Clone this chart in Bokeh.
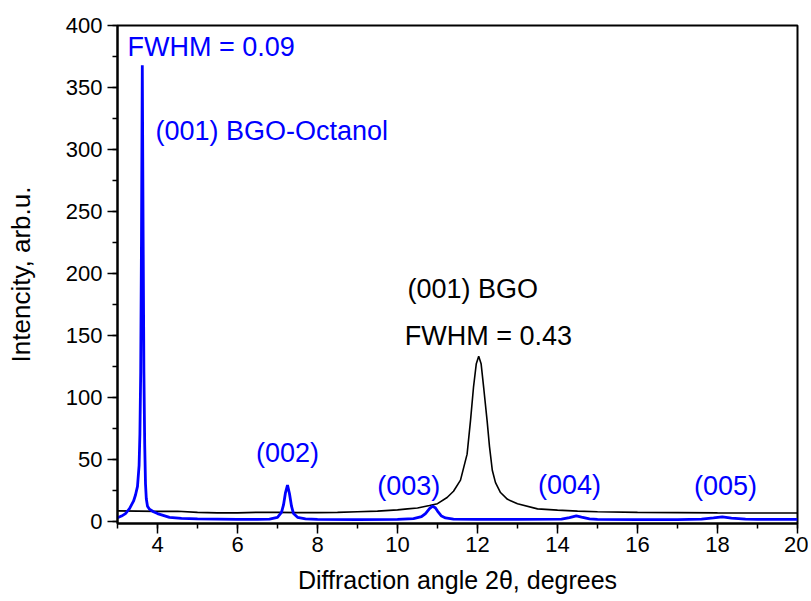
from bokeh.plotting import figure
from bokeh.models import Range1d, SingleIntervalTicker
from bokeh.core.properties import value
from bokeh.embed import file_html
from bokeh.resources import INLINE

# Black curve: (001) BGO
bgo_x = [3.0, 3.5, 4.0, 4.5, 5.0, 5.5, 6.0, 6.6, 7.0, 7.5, 8.0, 8.5, 9.0, 9.5, 10.0, 10.25,
         10.5, 10.8, 11.0, 11.24, 11.4, 11.575, 11.74, 11.825, 11.9, 11.97, 12.03, 12.09,
         12.16, 12.24, 12.3, 12.37, 12.45, 12.575, 12.75, 13.0, 13.5, 14.0, 14.5, 15.0,
         16.0, 17.0, 18.0, 19.0, 20.0]
bgo_y = [8.2, 8.0, 7.8, 7.9, 7.0, 6.6, 6.6, 7.1, 7.0, 6.8, 6.8, 7.0, 7.5, 8.0, 9.0, 9.8,
         10.5, 12.5, 14.0, 19.0, 24.0, 33.0, 54.0, 81.0, 108.0, 127.0, 133.0, 127.0,
         106.0, 81.0, 60.0, 41.0, 31.0, 23.0, 17.5, 14.0, 9.8, 8.8, 8.0, 7.5,
         7.0, 6.8, 6.6, 6.5, 6.5]

# Blue curve: BGO-Octanol
oct_x = [3.0, 3.1, 3.2, 3.3, 3.4, 3.45, 3.5, 3.54, 3.56, 3.58, 3.6, 3.62, 3.64, 3.66, 3.68,
         3.7, 3.72, 3.75, 3.8, 3.9, 4.0, 4.1, 4.3, 4.6, 5.0, 6.0, 6.5, 6.8, 7.0, 7.1, 7.15,
         7.2, 7.25, 7.3, 7.35, 7.4, 7.5, 7.7, 8.0, 9.0, 10.0, 10.4, 10.6, 10.7, 10.8, 10.88,
         10.95, 11.0, 11.1, 11.2, 11.4, 12.0, 13.0, 14.1, 14.3, 14.47, 14.6, 14.8, 15.0,
         16.0, 17.0, 17.6, 17.9, 18.12, 18.35, 18.7, 19.0, 20.0]
oct_y = [2.6, 4.0, 6.0, 10.0, 16.0, 21.0, 28.0, 45.0, 70.0, 120.0, 230.0, 368.0, 235.0,
         120.0, 62.0, 30.0, 18.0, 12.0, 9.5, 7.5, 6.0, 5.0, 3.0, 2.2, 1.8, 1.3, 1.3, 1.6,
         3.0, 7.0, 13.0, 23.0, 29.0, 22.0, 12.0, 6.0, 3.0, 1.8, 1.4, 1.2, 1.3, 2.0, 3.5, 6.0,
         10.0, 12.0, 10.5, 8.0, 4.0, 2.5, 1.6, 1.3, 1.3, 1.5, 2.8, 4.2, 3.2, 1.8, 1.3,
         1.2, 1.2, 1.5, 2.5, 3.3, 2.4, 1.5, 1.3, 1.3]

# Annotations
blue_labels = ["FWHM = 0.09", "(001) BGO-Octanol"]
blue_lx = [3.25, 3.95]
blue_ly = [383.0, 314.5]
peak_labels = ["(002)", "(003)", "(004)", "(005)"]
peak_lx = [7.25, 10.28, 14.3, 18.2]
peak_ly = [55.0, 28.0, 29.0, 28.0]
black_labels = ["(001) BGO", "FWHM = 0.43"]
black_lx = [10.25, 10.18]
black_ly = [187.0, 149.0]

FONT = "Liberation Sans"

p = figure(width=808, height=600, output_backend="svg", toolbar_location=None,
           x_range=Range1d(3, 20), y_range=Range1d(-2, 400),
           min_border_left=117, min_border_right=11, min_border_top=25, min_border_bottom=77)
p.grid.visible = False
p.outline_line_color = "black"
p.outline_line_width = 2
p.background_fill_color = "white"
p.border_fill_color = "white"

p.xaxis.ticker = SingleIntervalTicker(interval=2, num_minor_ticks=2)
p.yaxis.ticker = SingleIntervalTicker(interval=50, num_minor_ticks=2)
for ax in (p.xaxis[0], p.yaxis[0]):
    ax.axis_line_width = 2
    ax.major_tick_line_width = 1.5
    ax.minor_tick_line_width = 1.5
    ax.major_tick_out = 10
    ax.major_tick_in = 0
    ax.minor_tick_out = 5
    ax.minor_tick_in = 0
    ax.major_label_text_font = FONT
    ax.major_label_text_font_size = "22px"
    ax.major_label_text_color = "black"
    ax.axis_label_text_font = FONT
    ax.axis_label_text_font_style = "normal"
    ax.axis_label_text_color = "black"

p.xaxis.axis_label_text_font_size = "25px"
p.yaxis.axis_label_text_font_size = "26px"
p.xaxis.axis_label = "Diffraction angle 2θ, degrees"
p.yaxis.axis_label = "Intencity, arb.u."
p.xaxis.major_label_standoff = 3
p.yaxis.major_label_standoff = 5
p.xaxis.axis_label_standoff = 11
p.yaxis.axis_label_standoff = 27

p.line(bgo_x, bgo_y, line_color="black", line_width=1.6)
p.line(oct_x, oct_y, line_color="#0000ff", line_width=2.8)

p.text(x=blue_lx, y=blue_ly, text=blue_labels, text_color="#0000ff",
       text_font=value(FONT), text_font_size="27px", text_align="left", text_baseline="middle")
p.text(x=peak_lx, y=peak_ly, text=peak_labels, text_color="#0000ff",
       text_font=value(FONT), text_font_size="27px", text_align="center", text_baseline="middle")
p.text(x=black_lx, y=black_ly, text=black_labels, text_color="black",
       text_font=value(FONT), text_font_size="27px", text_align="left", text_baseline="middle")

open("out.html", "w").write(file_html(p, INLINE))
